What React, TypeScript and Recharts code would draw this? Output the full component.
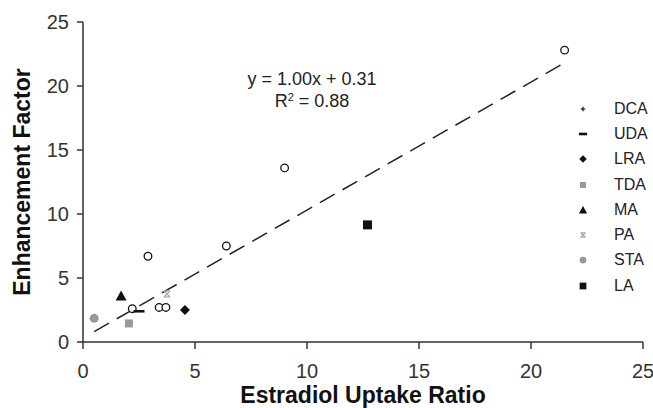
import { Label, Scatter, ScatterChart, XAxis, YAxis, Line } from 'recharts'

// open-circle points (not listed in legend)
const openX = [21.5, 9.0, 2.9, 6.4, 3.4, 3.7, 2.2]
const openY = [22.8, 13.6, 6.7, 7.5, 2.7, 2.7, 2.6]

const groups = ['DCA', 'UDA', 'LRA', 'TDA', 'MA', 'PA', 'STA', 'LA']
const groupX = [null, 2.5, 4.55, 2.05, 1.7, 3.75, 0.5, 12.7]
const groupY = [null, 2.4, 2.5, 1.45, 3.6, 3.75, 1.85, 9.15]

const fitX = [0.5, 21.4]
const fitY = [0.81, 21.71]

const ticks = [0, 5, 10, 15, 20, 25]

const FONT = '"Liberation Sans", Arial, sans-serif'

type MarkProps = { cx?: number; cy?: number }

function mark(kind: string, cx: number, cy: number, s = 1) {
  switch (kind) {
    case 'open':
      return <circle cx={cx} cy={cy} r={3.8 * s} fill="#fff" stroke="#111" strokeWidth={1.3} />
    case 'DCA':
      return (
        <g stroke="#111" strokeWidth={1.2}>
          <line x1={cx - 3 * s} y1={cy} x2={cx + 3 * s} y2={cy} />
          <line x1={cx} y1={cy - 3 * s} x2={cx} y2={cy + 3 * s} />
        </g>
      )
    case 'UDA':
      return <rect x={cx - 5.5 * s} y={cy - 1.3} width={11 * s} height={2.6} fill="#111" />
    case 'LRA':
      return (
        <polygon
          points={`${cx},${cy - 5 * s} ${cx + 5 * s},${cy} ${cx},${cy + 5 * s} ${cx - 5 * s},${cy}`}
          fill="#111"
        />
      )
    case 'TDA':
      return <rect x={cx - 4 * s} y={cy - 4 * s} width={8 * s} height={8 * s} fill="#999" />
    case 'MA':
      return (
        <polygon
          points={`${cx},${cy - 5.5 * s} ${cx + 5.5 * s},${cy + 4.5 * s} ${cx - 5.5 * s},${cy + 4.5 * s}`}
          fill="#111"
        />
      )
    case 'PA':
      return (
        <g stroke="#aaa" strokeWidth={1.2}>
          <line x1={cx - 3 * s} y1={cy - 3 * s} x2={cx + 3 * s} y2={cy + 3 * s} />
          <line x1={cx + 3 * s} y1={cy - 3 * s} x2={cx - 3 * s} y2={cy + 3 * s} />
          <line x1={cx - 3 * s} y1={cy - 3 * s} x2={cx + 3 * s} y2={cy - 3 * s} />
          <line x1={cx - 3 * s} y1={cy + 3 * s} x2={cx + 3 * s} y2={cy + 3 * s} />
        </g>
      )
    case 'STA':
      return <circle cx={cx} cy={cy} r={4.5 * s} fill="#999" />
    case 'LA':
      return <rect x={cx - 4.5 * s} y={cy - 4.5 * s} width={9 * s} height={9 * s} fill="#111" />
  }
  return <g />
}

const openData = openX.map((x, i) => ({ x, y: openY[i] }))
const fitData = fitX.map((x, i) => ({ x, y: fitY[i] }))

function LegendBox() {
  return (
    <div style={{ position: 'absolute', left: 570, top: 96, fontFamily: FONT, fontSize: 16, color: '#222' }}>
      {groups.map((g) => (
        <div key={g} style={{ display: 'flex', alignItems: 'center', height: 25.3 }}>
          <svg width={28} height={20} style={{ flex: 'none' }}>
            {mark(g, 13, 10, 0.75)}
          </svg>
          <span style={{ marginLeft: 16 }}>{g}</span>
        </div>
      ))}
    </div>
  )
}

function YTitle({ viewBox }: any) {
  const cy = viewBox.y + viewBox.height / 2
  return (
    <text
      x={22}
      y={cy}
      transform={`rotate(-90 22 ${cy})`}
      textAnchor="middle"
      dominantBaseline="central"
      fontFamily={FONT}
      fontWeight="bold"
      fontSize={23}
      fill="#111"
    >
      Enhancement Factor
    </text>
  )
}

export default function App() {
  return (
    <div style={{ position: 'absolute', left: 0, top: 0, width: 653, height: 408, background: '#fff' }}>
      <ScatterChart width={653} height={408} margin={{ top: 22, right: 10, bottom: 0, left: 0 }}>
        <XAxis
          type="number"
          dataKey="x"
          domain={[0, 25]}
          ticks={ticks}
          height={66}
          tickSize={7}
          tickMargin={15}
          stroke="#333"
          strokeWidth={1.5}
          tick={{ fill: '#333', fontSize: 20, fontFamily: FONT }}
          allowDataOverflow
        >
          <Label
            value="Estradiol Uptake Ratio"
            position="insideBottom"
            offset={5}
            fontFamily={FONT}
            fontWeight="bold"
            fontSize={23}
            fill="#111"
          />
        </XAxis>
        <YAxis
          type="number"
          dataKey="y"
          domain={[0, 25]}
          ticks={ticks}
          width={83}
          tickSize={6}
          tickMargin={8}
          stroke="#333"
          strokeWidth={1.5}
          tick={{ fill: '#333', fontSize: 20, fontFamily: FONT }}
          allowDataOverflow
        >
          <Label content={<YTitle />} />
        </YAxis>
        <Scatter
          data={fitData}
          line={{ stroke: '#222', strokeWidth: 1.5, strokeDasharray: '17 9' }}
          shape={() => <g />}
          isAnimationActive={false}
        />
        <Scatter
          data={openData}
          shape={(p: MarkProps) => mark('open', p.cx ?? 0, p.cy ?? 0)}
          isAnimationActive={false}
        />
        {groups.map((g, i) =>
          groupX[i] == null ? null : (
            <Scatter
              key={g}
              name={g}
              data={[{ x: groupX[i], y: groupY[i] }]}
              shape={(p: MarkProps) => mark(g, p.cx ?? 0, p.cy ?? 0)}
              isAnimationActive={false}
            />
          )
        )}
      </ScatterChart>
      <div
        style={{
          position: 'absolute',
          left: 212,
          top: 68,
          width: 200,
          textAlign: 'center',
          fontFamily: FONT,
          fontSize: 18,
          lineHeight: '22px',
          color: '#222',
        }}
      >
        <div>y = 1.00x + 0.31</div>
        <div>
          R<sup style={{ fontSize: 11, verticalAlign: 6, lineHeight: 0 }}>2</sup> = 0.88
        </div>
      </div>
      <LegendBox />
    </div>
  )
}
